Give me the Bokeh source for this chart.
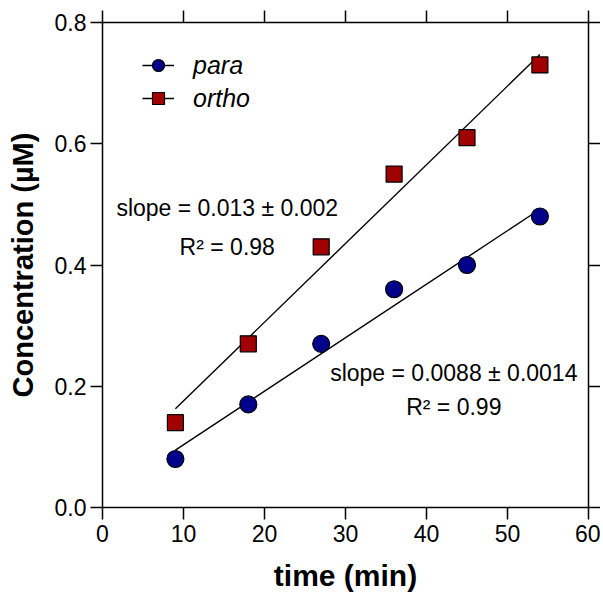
import numpy as np
from bokeh.plotting import figure
from bokeh.models import (Range1d, LinearAxis, FixedTicker, Legend, LegendItem,
                          Label, CustomJSTickFormatter)
from bokeh.embed import file_html
from bokeh.resources import INLINE

# ---- data ----
time_min = [9, 18, 27, 36, 45, 54]
para = [0.08, 0.17, 0.27, 0.36, 0.40, 0.48]
ortho = [0.14, 0.27, 0.43, 0.55, 0.61, 0.73]
x_ticks = [0, 10, 20, 30, 40, 50, 60]
y_ticks = [0.0, 0.2, 0.4, 0.6, 0.8]
y_tick_labels = ["0.0", "0.2", "0.4", "0.6", "0.8"]
ortho_text = ["slope = 0.013 \u00b1 0.002", "R\u00b2 = 0.98"]
para_text = ["slope = 0.0088 \u00b1 0.0014", "R\u00b2 = 0.99"]

FONT = "Liberation Sans"

p = figure(width=600, height=594, output_backend="svg", toolbar_location=None,
           x_range=Range1d(0, 60), y_range=Range1d(0, 0.8),
           min_border_left=102, min_border_right=12, min_border_top=22,
           min_border_bottom=86)
p.outline_line_color = None
p.xgrid.visible = False
p.ygrid.visible = False
p.background_fill_color = "white"
p.border_fill_color = "white"

def style_axis(ax, ticks):
    ax.ticker = FixedTicker(ticks=ticks)
    ax.axis_line_width = 1.5
    ax.axis_line_color = "black"
    ax.major_tick_line_width = 1.5
    ax.major_tick_line_color = "black"
    ax.major_tick_out = 12
    ax.major_tick_in = 0
    ax.minor_tick_line_color = None
    ax.major_label_text_font = FONT
    ax.major_label_text_font_size = "23px"
    ax.major_label_text_color = "black"
    ax.axis_label_text_font = FONT
    ax.axis_label_text_font_size = "30px"
    ax.axis_label_text_font_style = "bold"
    ax.axis_label_text_color = "black"

xa = p.xaxis[0]
ya = p.yaxis[0]
style_axis(xa, x_ticks)
style_axis(ya, y_ticks)
xa.axis_label = "time (min)"
ya.axis_label = "Concentration (\u00b5M)"
ya.axis_label_text_font_size = "29px"
ya.major_label_overrides = {t: s for t, s in zip(y_ticks, y_tick_labels)}
xa.major_label_standoff = 5
ya.major_label_standoff = 4
xa.axis_label_standoff = 14
ya.axis_label_standoff = 13

top = LinearAxis()
right = LinearAxis()
for ax, ticks in ((top, x_ticks), (right, y_ticks)):
    style_axis(ax, ticks)
    ax.formatter = CustomJSTickFormatter(code="return ''")
    ax.major_label_text_font_size = "0px"
    ax.major_label_standoff = 0
p.add_layout(top, "above")
p.add_layout(right, "right")

# ---- fits ----
def fit_line(xs, ys):
    m, b = np.polyfit(xs, ys, 1)
    xe = [xs[0], xs[-1]]
    return xe, [m * v + b for v in xe]

px, py = fit_line(time_min, para)
ox, oy = fit_line(time_min, ortho)
l_para = p.line(px, py, line_color="black", line_width=1.4)
l_ortho = p.line(ox, oy, line_color="black", line_width=1.4)

s_para = p.scatter(time_min, para, marker="circle", size=17,
                   fill_color="#00008B", line_color="black", line_width=1.2)
s_ortho = p.scatter(time_min, ortho, marker="square", size=16,
                    fill_color="#A00000", line_color="black", line_width=1.2)

legend = Legend(items=[LegendItem(label="para", renderers=[l_para, s_para]),
                       LegendItem(label="ortho", renderers=[l_ortho, s_ortho])],
                location=(40, 394), margin=0, padding=0, spacing=3,
                glyph_width=32, glyph_height=30, label_height=30,
                label_standoff=19,
                border_line_color=None, background_fill_alpha=0,
                label_text_font=FONT, label_text_font_size="25px",
                label_text_font_style="italic", label_text_color="black")
p.add_layout(legend, "center")

def add_text(xc, yb, txt):
    p.add_layout(Label(x=xc, y=yb, text=txt, text_align="center",
                       text_baseline="alphabetic", text_font=FONT,
                       text_font_size="23px", text_color="black"))

add_text(15.4, 0.494, ortho_text[0])
add_text(15.4, 0.430, ortho_text[1])
add_text(43.37, 0.222, para_text[0])
add_text(43.37, 0.166, para_text[1])

open("out.html", "w").write(file_html(p, INLINE))
